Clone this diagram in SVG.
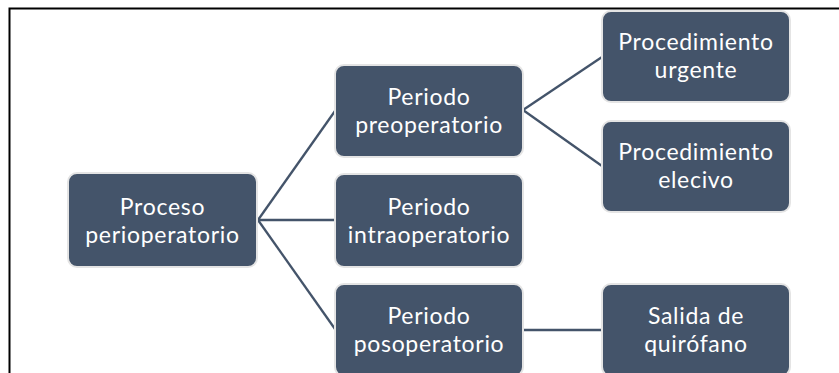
<svg xmlns="http://www.w3.org/2000/svg" width="839" height="373" viewBox="0 0 839 373">
<style>
.n{fill:#44546A;stroke:#E4E4E4;stroke-width:2}
.t{fill:#FFFFFF;font-family:Lato,"Open Sans","Liberation Sans",sans-serif;font-size:23px;letter-spacing:0.7px;text-anchor:middle}
.c{stroke:#44546A;stroke-width:2.3;fill:none}
</style>
<rect x="0" y="0" width="839" height="373" fill="#FFFFFF"/>
<rect x="9.5" y="8.5" width="840" height="380" fill="none" stroke="#000000" stroke-width="2"/>
<g id="connectors">
<line class="c" x1="258" y1="220" x2="335" y2="111"/>
<line class="c" x1="258" y1="220" x2="335" y2="220"/>
<line class="c" x1="258" y1="220" x2="335" y2="329"/>
<line class="c" x1="523" y1="110" x2="602" y2="57"/>
<line class="c" x1="523" y1="110" x2="602" y2="166"/>
<line class="c" x1="523" y1="330" x2="602" y2="330"/>
</g>
<g id="proceso">
<rect class="n" x="68" y="173" width="189" height="94" rx="9"/>
<text class="t" x="162.5" y="215">Proceso</text>
<text class="t" x="162.5" y="243">perioperatorio</text>
</g>
<g id="preoperatorio">
<rect class="n" x="335" y="65" width="188" height="92" rx="9"/>
<text class="t" x="429" y="105">Periodo</text>
<text class="t" x="429" y="133">preoperatorio</text>
</g>
<g id="intraoperatorio">
<rect class="n" x="335" y="174" width="188" height="93" rx="9"/>
<text class="t" x="429" y="215">Periodo</text>
<text class="t" x="429" y="243">intraoperatorio</text>
</g>
<g id="posoperatorio">
<rect class="n" x="335" y="284" width="188" height="92" rx="9"/>
<text class="t" x="429" y="324">Periodo</text>
<text class="t" x="429" y="352">posoperatorio</text>
</g>
<g id="urgente">
<rect class="n" x="602" y="11" width="188" height="91" rx="9"/>
<text class="t" x="696" y="50">Procedimiento</text>
<text class="t" x="696" y="78">urgente</text>
</g>
<g id="elecivo">
<rect class="n" x="602" y="121" width="188" height="91" rx="9"/>
<text class="t" x="696" y="160">Procedimiento</text>
<text class="t" x="696" y="188">elecivo</text>
</g>
<g id="salida">
<rect class="n" x="602" y="284" width="188" height="92" rx="9"/>
<text class="t" x="696" y="324">Salida de</text>
<text class="t" x="696" y="352">quirófano</text>
</g>
</svg>
